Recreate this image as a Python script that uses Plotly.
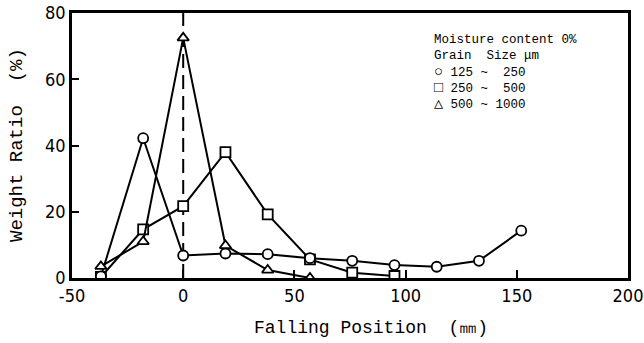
import plotly.graph_objects as go

# Falling position (mm) and weight ratio (%) per grain size class
x_125_250 = [-37, -18, 0, 19, 38, 57, 76, 95, 114, 133, 152]
ratio_125_250 = [0.5, 42.2, 6.8, 7.4, 7.2, 6.0, 5.2, 3.9, 3.4, 5.2, 14.3]

x_250_500 = [-37, -18, 0, 19, 38, 57, 76, 95]
ratio_250_500 = [0.3, 14.7, 21.7, 38.0, 19.2, 5.6, 1.6, 0.6]

x_500_1000 = [-37, -18, 0, 19, 38, 57]
ratio_500_1000 = [3.5, 11.0, 72.5, 9.8, 2.4, 0.0]

x_ticks = [-50, 0, 50, 100, 150, 200]
y_ticks = [0, 20, 40, 60, 80]
drop_x = [0, 0]
drop_y = [0, 80]

x_title = "Falling Position  (㎜)"
y_title = "Weight Ratio  (%)"
legend_head = ["Moisture content 0%", "Grain  Size μm"]
legend_symbols = ["○", "□", "△"]
legend_ranges = ["125 ~  250", "250 ~  500", "500 ~ 1000"]

MONO = "Liberation Mono, DejaVu Sans Mono, monospace"
TICK_FONT = dict(family="Liberation Sans Narrow, DejaVu Sans Condensed, Arial Narrow, sans-serif",
                 size=18, color="black")

L, R, T, B = 72, 16, 13, 65
PW = 644 - L - R
PH = 343 - T - B

fig = go.Figure()

fig.add_trace(go.Scatter(x=drop_x, y=drop_y, mode="lines",
                         line=dict(color="black", width=2, dash="14px,7px"),
                         showlegend=False, hoverinfo="skip"))

def series(x, y, symbol, size):
    fig.add_trace(go.Scatter(
        x=x, y=y, mode="lines+markers",
        line=dict(color="black", width=2),
        marker=dict(symbol=symbol, size=size, color="white",
                    line=dict(color="black", width=1.8)),
        showlegend=False))

series(x_250_500, ratio_250_500, "square", 10)
series(x_125_250, ratio_125_250, "circle", 10)
series(x_500_1000, ratio_500_1000, "triangle-up", 10)

legend_rows = legend_head + [
    f'<span style="font-size:15px">{s}</span> {r}' for s, r in zip(legend_symbols, legend_ranges)
]
fig.add_annotation(
    text="<br>".join(legend_rows), xref="paper", yref="paper",
    x=(432 - L) / PW, y=(343 - B - 31) / PH, xanchor="left", yanchor="top", align="left",
    showarrow=False,
    font=dict(family=MONO, size=12.5, color="black"))

# axis titles
fig.add_annotation(text=x_title, xref="paper", yref="paper",
                   x=(371 - L) / PW, y=(343 - B - 328) / PH, xanchor="center", yanchor="middle",
                   showarrow=False, font=dict(family=MONO, size=18, color="black"))
fig.add_annotation(text=y_title, xref="paper", yref="paper", textangle=-90,
                   x=(17 - L) / PW, y=(343 - B - 145) / PH, xanchor="center", yanchor="middle",
                   showarrow=False, font=dict(family=MONO, size=19, color="black"))

fig.update_layout(
    width=644, height=343,
    margin=dict(l=L, r=R, t=T, b=B, autoexpand=False),
    paper_bgcolor="white", plot_bgcolor="white",
    showlegend=False,
    xaxis=dict(range=[-50, 200], tickvals=x_ticks, ticktext=[str(v) for v in x_ticks],
               ticks="inside", ticklen=8, tickwidth=2, tickcolor="black",
               showline=True, linewidth=2.5, linecolor="black", mirror=True,
               showgrid=False, zeroline=False, tickfont=TICK_FONT,
               ticklabeloverflow="allow", automargin=False),
    yaxis=dict(range=[0, 80], tickvals=y_ticks, ticktext=[str(v) for v in y_ticks],
               ticks="inside", ticklen=7, tickwidth=2, tickcolor="black",
               showline=True, linewidth=2.5, linecolor="black", mirror=True,
               showgrid=False, zeroline=False, tickfont=TICK_FONT,
               ticklabeloverflow="allow", automargin=False),
)

fig.write_html("out.html")
